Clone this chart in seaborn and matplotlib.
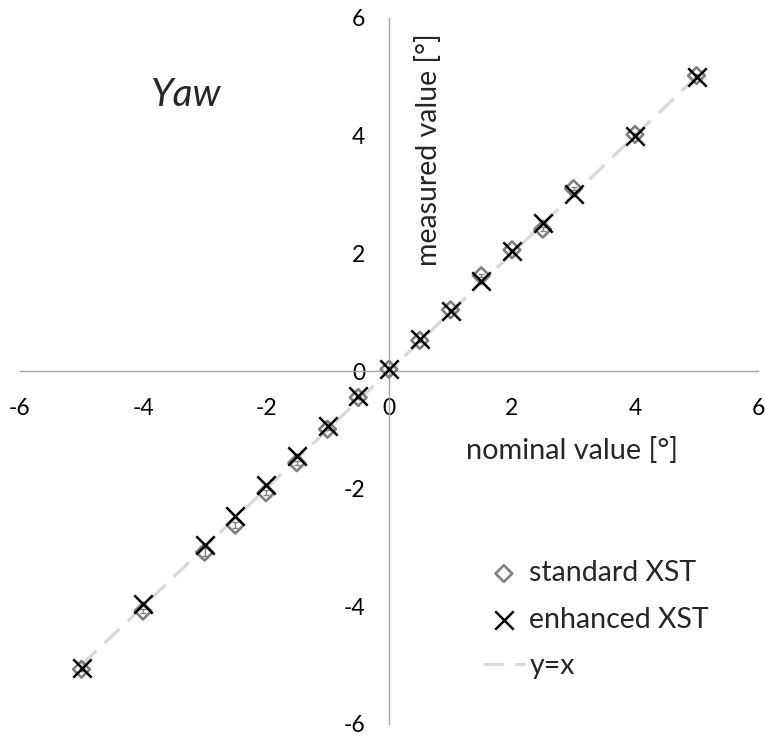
import matplotlib
matplotlib.use("Agg")
import matplotlib.pyplot as plt
import seaborn as sns
import pandas as pd

# Yaw calibration: nominal vs measured angle for the two XST variants
nominal = [-5, -4, -3, -2.5, -2, -1.5, -1, -0.5, 0, 0.5, 1, 1.5, 2, 2.5, 3, 4, 5]
standard_xst = [-5.07, -4.08, -3.08, -2.62, -2.07, -1.56, -0.99, -0.45, 0.03,
                0.52, 1.04, 1.62, 2.06, 2.41, 3.10, 4.02, 5.02]
standard_err = [0.03, 0.04, 0.07, 0.05, 0.04, 0.03, 0.02, 0.02, 0.02,
                0.02, 0.02, 0.03, 0.02, 0.03, 0.03, 0.02, 0.02]
enhanced_xst = [-5.05, -3.96, -2.95, -2.46, -1.93, -1.45, -0.94, -0.43, 0.04,
                0.54, 1.02, 1.53, 2.04, 2.52, 3.01, 4.00, 4.99]
ticks = [-6, -4, -2, 0, 2, 4, 6]
tick_labels = ["-6", "-4", "-2", "0", "2", "4", "6"]

df = pd.DataFrame({"nominal": nominal, "standard": standard_xst,
                   "err": standard_err, "enhanced": enhanced_xst})

sns.set_theme(style="white")
plt.rcParams["font.family"] = ["Lato", "DejaVu Sans"]

fig = plt.figure(figsize=(7.65, 7.38), dpi=100)
ax = fig.add_axes([20 / 765, 14 / 738, 738 / 765, 706 / 738])

axis_grey = "#a6a6a6"

# identity reference line
sns.lineplot(data=df, x="nominal", y="nominal", ax=ax, color="#d9d9d9",
             linewidth=2.3, linestyle=(0, (6.5, 3.5)), label="y=x", zorder=1)

ax.errorbar(df["nominal"], df["standard"], yerr=df["err"], fmt="none",
            ecolor="#808080", elinewidth=1.0, capsize=2, zorder=2)
sns.scatterplot(data=df, x="nominal", y="standard", ax=ax, marker="D", s=72,
                linewidth=1.9, label="standard XST", zorder=3)
ax.collections[-1].set_facecolor("none")
ax.collections[-1].set_edgecolor("#808080")

sns.scatterplot(data=df, x="nominal", y="enhanced", ax=ax, marker="x", s=175,
                color="black", linewidth=1.8, label="enhanced XST", zorder=4)

ax.set_xlim(-6, 6)
ax.set_ylim(-6, 6)
ax.set_xticks(ticks, tick_labels)
ax.set_yticks(ticks, tick_labels)
ax.set_xlabel("")
ax.set_ylabel("")

for side in ("top", "right"):
    ax.spines[side].set_visible(False)
for side in ("left", "bottom"):
    ax.spines[side].set_position(("data", 0))
    ax.spines[side].set_color(axis_grey)
    ax.spines[side].set_linewidth(1.0)

ax.tick_params(axis="both", direction="out", length=6, width=1.0,
               color=axis_grey, labelsize=16.5, labelcolor="black")
ax.tick_params(axis="x", pad=13.5)
ax.tick_params(axis="y", pad=11)

ax.text(0.748, 0.388, "nominal value [°]", transform=ax.transAxes,
        ha="center", va="center", fontsize=20.8)
ax.text(0.554, 0.813, "measured value [°]", transform=ax.transAxes,
        ha="center", va="center", rotation=90, fontsize=20.5)
ax.text(0.225, 0.891, "Yaw", transform=ax.transAxes, ha="center",
        va="center", fontsize=28, style="italic")

handles, labels = ax.get_legend_handles_labels()
order = [labels.index(n) for n in ("standard XST", "enhanced XST", "y=x")]
ax.legend([handles[i] for i in order], [labels[i] for i in order],
          loc="center left", bbox_to_anchor=(0.592, 0.148), frameon=False,
          fontsize=20.5, handlelength=1.5, handletextpad=0.14,
          labelspacing=0.72, borderpad=0.4)

fig.savefig("out.png", dpi=100)
